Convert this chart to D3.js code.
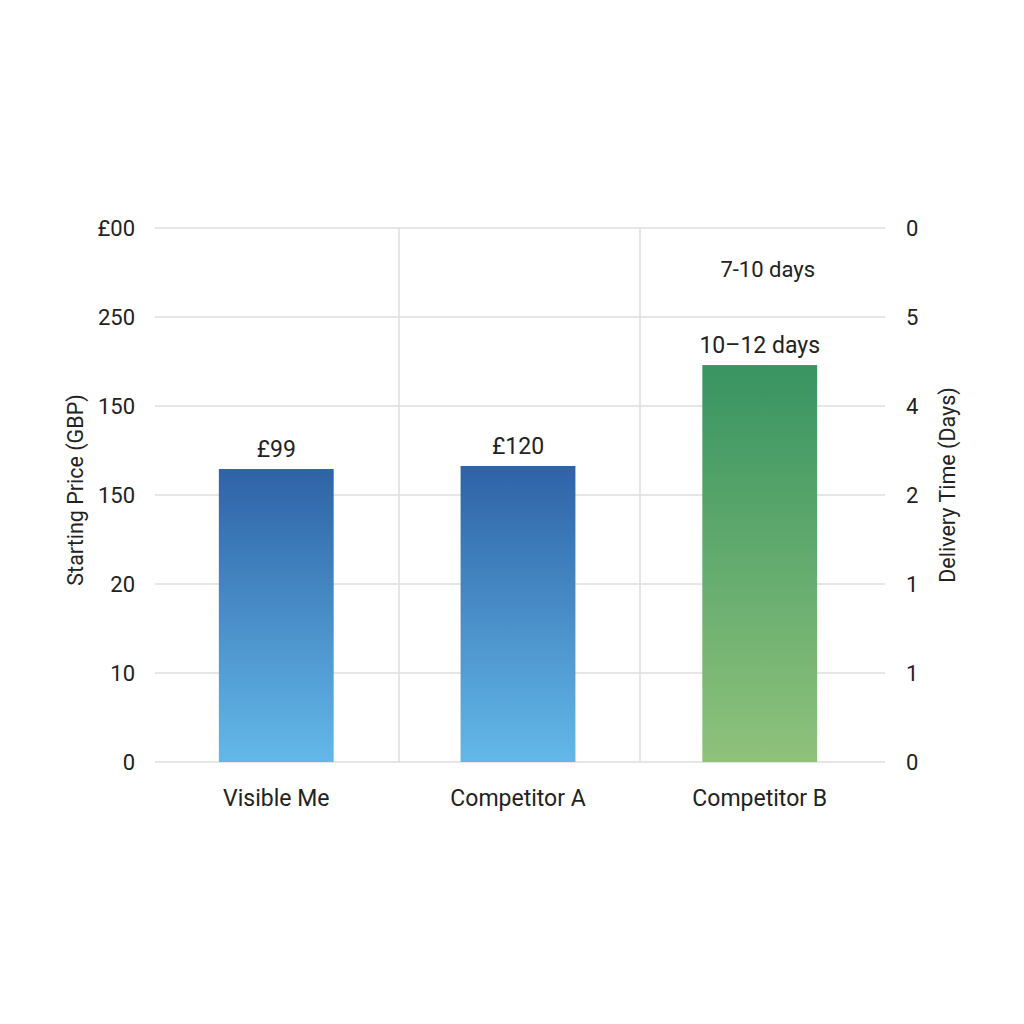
<!DOCTYPE html>
<html><head><meta charset="utf-8">
<script src="https://cdn.jsdelivr.net/npm/d3@7"></script>
<style>body{margin:0;background:#fff}text{font-family:Roboto,"Noto Sans",sans-serif;fill:#222}</style>
</head><body><svg id="c" width="1024" height="1024"></svg>
<script>
const categories=["Visible Me","Competitor A","Competitor B"];
const values=[164.6,166.3,223];
const valueLabels=["£99","£120","10–12 days"];
const leftTicks=["0","10","20","150","150","250","£00"];
const rightTicks=["0","1","1","2","4","5","0"];
const extraLabel="7-10 days";
const svg=d3.select("#c");
const L=155,R=885,T=228,B=762;
const y=d3.scaleLinear().domain([0,300]).range([B,T]);
const x=d3.scaleBand().domain(categories).range([L+1,R-5]).paddingInner(0.525).paddingOuter(0.26);
const tv=d3.range(0,301,50);
const defs=svg.append("defs");
function grad(id,a,b){const g=defs.append("linearGradient").attr("id",id).attr("x1",0).attr("y1",0).attr("x2",0).attr("y2",1);
g.append("stop").attr("offset","0%").attr("stop-color",a);g.append("stop").attr("offset","100%").attr("stop-color",b);}
grad("gb","#2e63a7","#63b8e9");grad("gg","#389461","#8fc27b");
svg.selectAll(".h").data(tv).join("line").attr("x1",L).attr("x2",R).attr("y1",d=>y(d)).attr("y2",d=>y(d)).attr("stroke","#dedede").attr("stroke-width",1.5);
[399,640].forEach(v=>svg.append("line").attr("x1",v).attr("x2",v).attr("y1",T).attr("y2",B).attr("stroke","#dedede").attr("stroke-width",1.5));
svg.selectAll(".lt").data(tv).join("text").attr("x",135).attr("y",d=>y(d)+8).attr("text-anchor","end").attr("font-size",22).text((d,i)=>leftTicks[i]);
svg.selectAll(".rt").data(tv).join("text").attr("x",906).attr("y",d=>y(d)+8).attr("font-size",22).text((d,i)=>rightTicks[i]);
svg.selectAll(".bar").data(values).join("rect").attr("x",(d,i)=>x(categories[i])).attr("width",x.bandwidth()).attr("y",d=>y(d)).attr("height",d=>B-y(d)).attr("fill",(d,i)=>i==2?"url(#gg)":"url(#gb)");
svg.selectAll(".vl").data(values).join("text").attr("x",(d,i)=>x(categories[i])+x.bandwidth()/2).attr("y",d=>y(d)-12).attr("text-anchor","middle").attr("font-size",23).text((d,i)=>valueLabels[i]);
svg.append("text").attr("x",x(categories[2])+x.bandwidth()/2+8).attr("y",277).attr("text-anchor","middle").attr("font-size",22).text(extraLabel);
svg.selectAll(".cl").data(categories).join("text").attr("x",d=>x(d)+x.bandwidth()/2).attr("y",806).attr("text-anchor","middle").attr("font-size",23).text(d=>d);
svg.append("text").attr("transform","translate(83,490) rotate(-90)").attr("text-anchor","middle").attr("font-size",21.5).text("Starting Price (GBP)");
svg.append("text").attr("transform","translate(955,485) rotate(-90)").attr("text-anchor","middle").attr("font-size",21.5).text("Delivery Time (Days)");
</script></body></html>
